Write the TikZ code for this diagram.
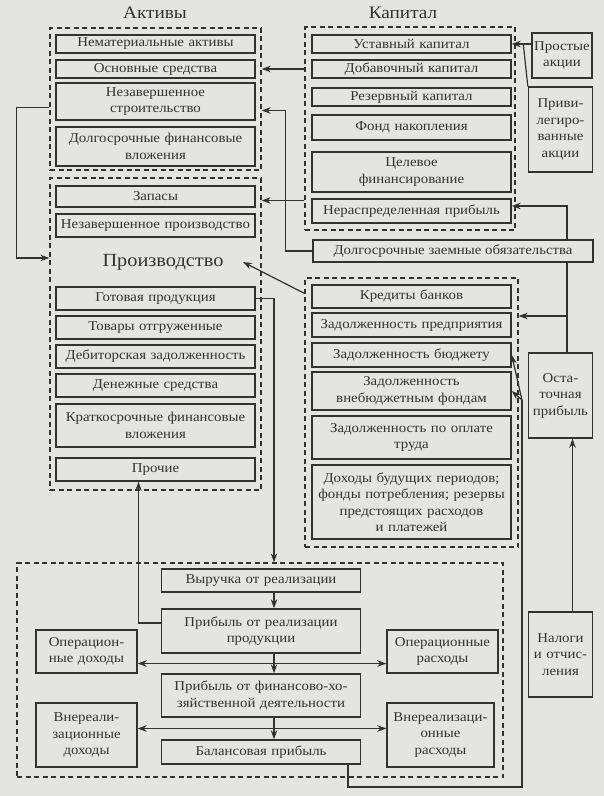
\documentclass[tikz,border=0pt]{standalone}
\usepackage{fontspec}
\setmainfont{Liberation Serif}[FakeStretch=1.1]
\usetikzlibrary{arrows.meta,calc}
\definecolor{paper}{RGB}{228,228,226}
\definecolor{ink}{RGB}{50,50,50}

\begin{document}
\begin{tikzpicture}[x=1pt,y=-1pt,
            every node/.style={text=ink, font=\fontsize{13.5}{16.5}\selectfont},
            box/.style={draw=ink, line width=1.4pt, fill=paper, align=center, inner sep=1pt},
            colbox/.style={box, minimum width=199pt, text width=195pt},
            sidebox/.style={box, minimum width=64pt, text width=60pt, minimum height=85pt},
            frame/.style={draw=ink, line width=1.3pt, dash pattern=on 5pt off 3.5pt, inner sep=0pt},
            title/.style={font=\fontsize{17.5}{20}\selectfont},
            wire/.style={draw=ink, line width=1.2pt},
            arr/.style={wire, -{Stealth[length=9pt,width=6.5pt]}}]
              \fill[paper] (0,0) rectangle (604,796);
              \useasboundingbox (0,0) rectangle (604,796);

              \node[title] (takt) at (155,13) {Активы};
              \node[title] (tkap) at (403,13) {Капитал};

              \node[frame, minimum width=211pt, minimum height=142pt] (fakt) at (155.5,99) {};
              \node[frame, minimum width=211pt, minimum height=312pt] (fpro) at (155.5,334) {};
              \node[frame, minimum width=210pt, minimum height=203pt] (fkap) at (410,128.5) {};
              \node[frame, minimum width=213pt, minimum height=269pt] (fobz) at (411.5,412.5) {};
              \node[frame, minimum width=486pt, minimum height=214pt] (fbot) at (260,670) {};

              \node[colbox, minimum height=18pt] (nemat) at (155.5,44) {Нематериальные активы};
              \node[colbox, minimum height=18pt] (osn) at (155.5,69) {Основные средства};
              \node[colbox, minimum height=37pt] (nezstr) at (155.5,101.5) {Незавершенное\\строительство};
              \node[colbox, minimum height=39pt] (dolfin) at (155.5,146.5) {Долгосрочные финансовые\\вложения};
              \node[colbox, minimum height=21pt] (zapas) at (155.5,196.5) {Запасы};
              \node[colbox, minimum height=23pt] (nezpr) at (155.5,225.5) {Незавершенное производство};
              \node[title, font=\fontsize{18.5}{20}\selectfont] (proizv) at (163,262) {Производство};
              \node[colbox, minimum height=23pt] (gotov) at (155.5,298.5) {Готовая продукция};
              \node[colbox, minimum height=23pt] (tovar) at (155.5,327.5) {Товары отгруженные};
              \node[colbox, minimum height=23pt] (debit) at (155.5,356.5) {Дебиторская задолженность};
              \node[colbox, minimum height=23pt] (denezh) at (155.5,385.5) {Денежные средства};
              \node[colbox, minimum height=43pt] (kratk) at (155.5,425.5) {Краткосрочные финансовые\\вложения};
              \node[colbox, minimum height=23pt] (proch) at (155.5,469.5) {Прочие};

              \node[colbox, minimum height=18pt] (ustav) at (411.5,44) {Уставный капитал};
              \node[colbox, minimum height=18pt] (dobav) at (411.5,69) {Добавочный капитал};
              \node[colbox, minimum height=18pt] (rezerv) at (411.5,97) {Резервный капитал};
              \node[colbox, minimum height=25pt] (fond) at (411.5,127.5) {Фонд накопления};
              \node[colbox, minimum height=40pt] (celev) at (411.5,172) {Целевое\\финансирование};
              \node[colbox, minimum height=24pt] (nerasp) at (411.5,211) {Нераспределенная прибыль};
              \node[box, minimum width=280pt, minimum height=22pt] (dolzaem) at (453,251) {Долгосрочные заемные обязательства};
              \node[colbox, minimum height=23pt] (kredit) at (411.5,296.5) {Кредиты банков};
              \node[colbox, minimum height=24pt] (zpred) at (411.5,325) {Задолженность предприятия};
              \node[colbox, minimum height=24pt] (zbudg) at (411.5,355) {Задолженность бюджету};
              \node[colbox, minimum height=38pt] (zvneb) at (411.5,391) {Задолженность\\внебюджетным фондам};
              \node[colbox, minimum height=43pt] (ztrud) at (411.5,437.5) {Задолженность по оплате\\труда};
              \node[colbox, minimum height=74pt] (dohod) at (411.5,502) {Доходы будущих периодов;\\фонды потребления; резервы\\предстоящих расходов\\и платежей};

              \node[sidebox, minimum width=60pt, text width=58pt, minimum height=45pt] (prost) at (562,55.5) {Простые\\акции};
              \node[sidebox] (privil) at (560.5,129.5) {Приви-\\легиро-\\ванные\\акции};
              \node[sidebox] (ostat) at (560.5,395.5) {Оста-\\точная\\прибыль};
              \node[sidebox] (nalog) at (560.5,654.5) {Налоги\\и отчис-\\ления};

              \node[colbox, minimum height=23pt] (vyruch) at (261,580.5) {Выручка от реализации};
              \node[colbox, minimum height=44pt] (prreal) at (261,631) {Прибыль от реализации\\продукции};
              \node[colbox, minimum height=43pt] (prfin) at (261,695.5) {Прибыль от финансово-хо-\\зяйственной деятельности};
              \node[colbox, minimum height=24pt] (balans) at (261,752) {Балансовая прибыль};
              \node[box, minimum width=101pt, text width=97pt, minimum height=43pt] (opdoh) at (86.5,651.5) {Операцион-\\ные доходы};
              \node[box, minimum width=111pt, text width=107pt, minimum height=43pt] (oprash) at (442.5,651.5) {Операционные\\расходы};
              \node[box, minimum width=101pt, text width=97pt, minimum height=64pt] (vndoh) at (86.5,735) {Внереали-\\зационные\\доходы};
              \node[box, minimum width=107pt, text width=103pt, minimum height=64pt] (vnrash) at (440.5,735) {Внереализаци-\\онные\\расходы};

              \coordinate (spine) at (274,0);
              \coordinate (bb) at (522,787);
              \coordinate (bt) at (522,400);
              \coordinate (rv) at ($(ostat.north)+(6.5,0)$);

              \draw[arr] (fkap.west |- dobav) -- (fakt.east |- osn);
              \draw[arr] (dolzaem.west) -- ++(-27,0) |- ($(fakt.east |- nezstr)+(0,9)$);
              \draw[arr] ($(fkap.west |- zapas)+(0,4)$) -- ($(fpro.east |- zapas)+(0,4)$);
              \draw[arr] ($(fakt.west |- nezstr)+(0,6)$) -- ++(-33,0) |- ($(fpro.west |- proizv)+(0,-4)$);
              \draw[arr] ($(fobz.north west)+(0,16)$) -- ($(proizv.east)+(16,0)$);
              \draw[arr] (gotov.east) -| (spine |- fbot.north);

              \draw[arr] (vyruch.south -| spine) -- (prreal.north -| spine);
              \draw[arr] (prreal.south -| spine) -- (prfin.north -| spine);
              \draw[arr] (prfin.south -| spine) -- (balans.north -| spine);
              \coordinate (m1) at ($(prreal.south -| spine)!.5!(prfin.north -| spine)$);
              \coordinate (m2) at ($(prfin.south -| spine)!.5!(balans.north -| spine)$);
              \draw[arr] (m1) -- (m1 -| opdoh.east);
              \draw[arr] (m1) -- (m1 -| oprash.west);
              \draw[arr] (m2) -- (m2 -| vndoh.east);
              \draw[arr] (m2) -- (m2 -| vnrash.west);
              \draw[arr] ($(prreal.west)+(0,-8)$) -| ($(proch.south)+(-17,0)$);

              \draw[wire] ($(balans.south)+(87,0)$) |- (bb) -- (bt);
              \draw[arr] (bt) -- (zbudg.east);
              \draw[arr] (bt) -- (zvneb.east);

              \draw[arr] ($(nalog.north)+(12,0)$) -- ($(ostat.south)+(12,0)$);
              \draw[wire] (rv) -- (rv |- dolzaem.south);
              \draw[arr] (rv |- dolzaem.north) |- ($(nerasp.east)+(0,-5)$);
              \draw[arr] ($(rv |- zpred)+(0,-9)$) -- ($(fobz.east |- zpred)+(0,-9)$);

              \draw[arr] (prost.west |- ustav) -- (ustav.east);
              \draw[wire] (privil.north west) -- ($(prost.west |- ustav)+(-8,0)$);
\end{tikzpicture}
\end{document}
